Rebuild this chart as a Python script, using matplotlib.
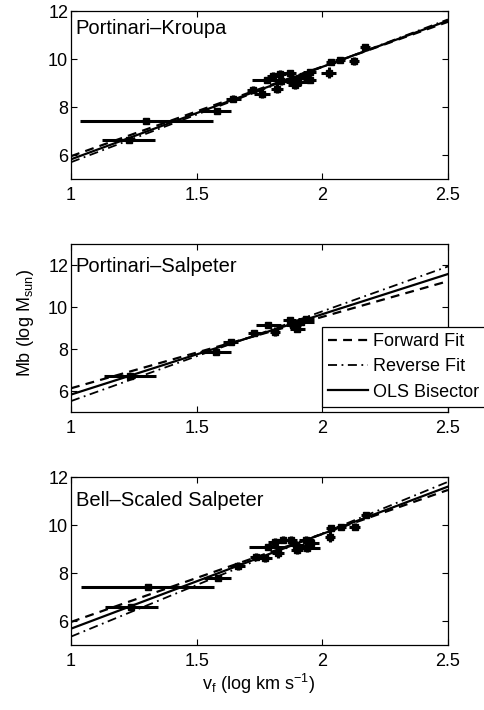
import matplotlib
matplotlib.use("Agg")
import matplotlib.pyplot as plt
import numpy as np

plt.rcParams['font.family'] = ['Liberation Sans', 'DejaVu Sans']
plt.rcParams['mathtext.default'] = 'regular'

# ---------------- data ----------------
panel_names = ["Portinari\u2013Kroupa", "Portinari\u2013Salpeter", "Bell\u2013Scaled Salpeter"]

# Panel 1: Portinari-Kroupa
vf_1 = [1.30, 1.23, 1.58, 1.645, 1.725, 1.76, 1.78, 1.805, 1.83, 1.82, 1.835, 1.87, 1.885, 1.89, 1.905, 1.925, 1.95, 1.95, 2.025, 2.035, 2.07, 2.125, 2.17]
mb_1 = [7.43, 6.61, 7.82, 8.35, 8.72, 8.55, 9.13, 9.30, 9.38, 8.76, 9.07, 9.40, 9.18, 8.92, 9.05, 9.30, 9.45, 9.14, 9.43, 9.86, 9.95, 9.92, 10.48]
xe_1 = [0.265, 0.105, 0.058, 0.03, 0.025, 0.03, 0.06, 0.025, 0.025, 0.025, 0.025, 0.025, 0.03, 0.025, 0.05, 0.03, 0.025, 0.025, 0.03, 0.02, 0.02, 0.02, 0.02]
ye_1 = [0.08, 0.08, 0.12, 0.15, 0.15, 0.18, 0.10, 0.15, 0.15, 0.18, 0.15, 0.15, 0.15, 0.18, 0.15, 0.15, 0.15, 0.15, 0.22, 0.12, 0.12, 0.15, 0.12]

# Panel 2: Portinari-Salpeter
vf_2 = [1.235, 1.575, 1.635, 1.73, 1.785, 1.81, 1.87, 1.885, 1.90, 1.915, 1.935]
mb_2 = [6.70, 7.88, 8.35, 8.78, 9.13, 8.82, 9.38, 9.15, 8.95, 9.28, 9.42]
xe_2 = [0.105, 0.06, 0.03, 0.025, 0.05, 0.02, 0.025, 0.03, 0.03, 0.05, 0.03]
ye_2 = [0.08, 0.12, 0.12, 0.12, 0.12, 0.22, 0.12, 0.15, 0.15, 0.12, 0.15]

# Panel 3: Bell-Scaled Salpeter
vf_3 = [1.305, 1.24, 1.584, 1.664, 1.737, 1.77, 1.783, 1.81, 1.823, 1.843, 1.876, 1.896, 1.90, 1.936, 1.956, 1.94, 2.03, 2.035, 2.075, 2.128, 2.175]
mb_3 = [7.40, 6.60, 7.81, 8.29, 8.68, 8.61, 9.10, 9.31, 8.82, 9.38, 9.38, 9.17, 8.96, 9.38, 9.24, 9.03, 9.51, 9.86, 9.93, 9.93, 10.42]
xe_3 = [0.265, 0.105, 0.053, 0.03, 0.025, 0.03, 0.073, 0.025, 0.025, 0.025, 0.025, 0.03, 0.025, 0.03, 0.03, 0.05, 0.02, 0.02, 0.02, 0.02, 0.02]
ye_3 = [0.08, 0.08, 0.12, 0.15, 0.15, 0.15, 0.10, 0.15, 0.18, 0.15, 0.15, 0.15, 0.18, 0.15, 0.15, 0.15, 0.22, 0.12, 0.12, 0.15, 0.12]

# fit lines: (intercept, slope) for y = a + b * x
forward_fit = [(2.217, 3.733), (2.73, 3.40), (2.293, 3.667)]
reverse_fit = [(1.733, 3.967), (1.247, 4.273), (1.05, 4.30)]
bisector_fit = [(1.967, 3.853), (2.003, 3.827), (1.733, 3.947)]

ylims = [(5, 12), (5, 13), (5, 12)]
xticks = [1, 1.5, 2, 2.5]
xticklabels = ["1", "1.5", "2", "2.5"]
yticks = [6, 8, 10, 12]
yticklabels = ["6", "8", "10", "12"]
label_y = [0.955, 0.92, 0.915]

data = [(vf_1, mb_1, xe_1, ye_1), (vf_2, mb_2, xe_2, ye_2), (vf_3, mb_3, xe_3, ye_3)]

# ---------------- figure ----------------
fig = plt.figure(figsize=(4.84, 7.10), dpi=100)
W, H = 484, 710
ax_left, ax_right = 71, 448
tops = [11, 244, 477]
ax_h = 168
FS = 13

axes = []
for i in range(3):
    rect = [ax_left / W, 1 - (tops[i] + ax_h) / H, (ax_right - ax_left) / W, ax_h / H]
    ax = fig.add_axes(rect)
    axes.append(ax)
    vf, mb, xe, ye = data[i]
    ax.errorbar(vf, mb, xerr=xe, yerr=ye, fmt='s', color='black', ms=4.5,
                elinewidth=2.2, capsize=0, zorder=3)
    xx = np.array([1.0, 2.5])
    a, b = forward_fit[i]
    ax.plot(xx, a + b * xx, color='black', lw=1.6, linestyle=(0, (4, 2.8)), label='Forward Fit', zorder=4)
    a, b = reverse_fit[i]
    ax.plot(xx, a + b * xx, color='black', lw=1.3, linestyle=(0, (5, 2.5, 1, 2.5)), label='Reverse Fit', zorder=4)
    a, b = bisector_fit[i]
    ax.plot(xx, a + b * xx, color='black', lw=1.6, linestyle='-', label='OLS Bisector', zorder=4)
    ax.set_xlim(1, 2.5)
    ax.set_ylim(*ylims[i])
    ax.set_xticks(xticks)
    ax.set_xticklabels(xticklabels)
    ax.set_yticks(yticks)
    ax.set_yticklabels(yticklabels)
    ax.tick_params(direction='in', top=True, right=True, length=4, width=0.8,
                   labelsize=FS)
    ax.tick_params(axis='x', pad=6)
    ax.tick_params(axis='y', pad=2)
    for s in ax.spines.values():
        s.set_linewidth(0.9)
    ax.text(0.012, label_y[i], panel_names[i], transform=ax.transAxes,
            ha='left', va='top', fontsize=14.5)

handles, labels = axes[1].get_legend_handles_labels()
leg = fig.legend(handles, labels, loc='upper left', bbox_to_anchor=(322 / W, 1 - 327 / H),
                 bbox_transform=fig.transFigure, fontsize=FS, frameon=True, fancybox=False,
                 framealpha=1, edgecolor='black', handlelength=2.2, handletextpad=0.3,
                 labelspacing=0.45, borderpad=0.35, borderaxespad=0)
leg.get_frame().set_linewidth(0.9)

fig.text(25 / W, 1 - 323 / H, "Mb (log M$_{sun}$)", rotation=90, ha='center', va='center', fontsize=FS)
fig.text(259 / W, 1 - 684 / H, "v$_f$ (log km s$^{-1}$)", ha='center', va='center', fontsize=FS)

fig.savefig("out.png", dpi=100)
